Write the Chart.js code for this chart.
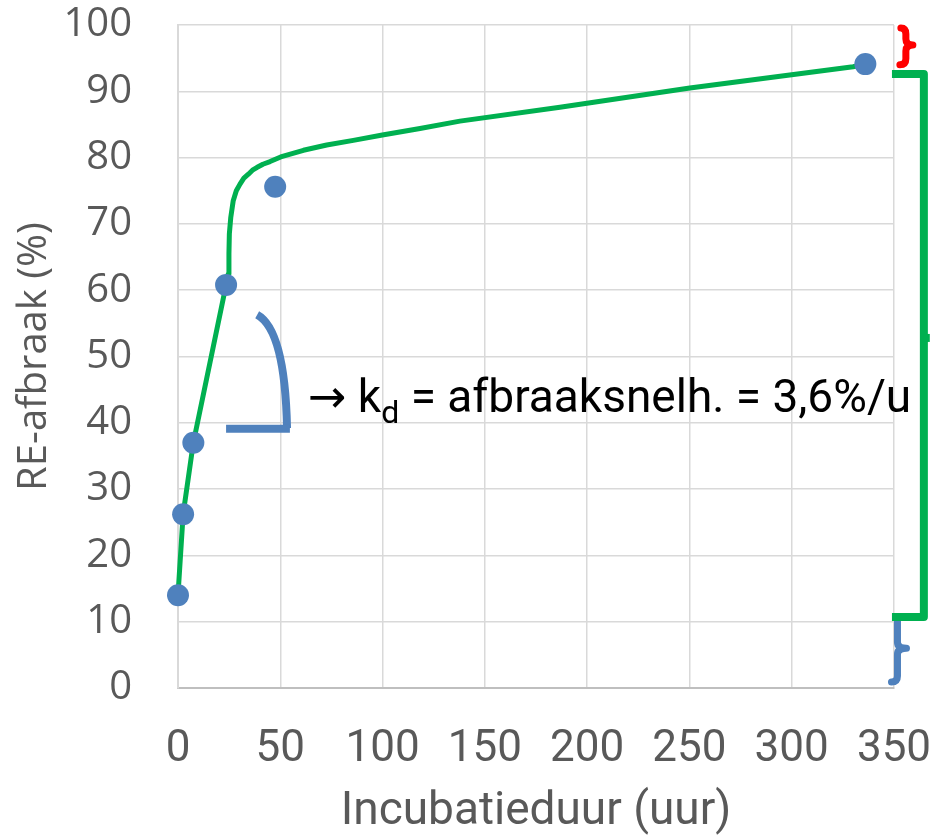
<!DOCTYPE html>
<html>
<head>
<meta charset="utf-8">
<script src="https://cdn.jsdelivr.net/npm/chart.js@4"></script>
<style>
  html, body { margin: 0; padding: 0; background: #ffffff; }
  canvas { display: block; }
</style>
</head>
<body>
<canvas id="c" width="932" height="835"></canvas>
<script>
// ---- data ----
const xHours   = [0, 2.5, 7.5, 23.5, 47.5, 336];
const reValues = [14, 26.2, 37, 60.8, 75.6, 94.1];
// fitted curve (green)
const fitHours  = [0, 2.5, 7.5, 23.5, 24.6, 24.9, 25.1, 25.8, 27.0, 28.5, 30.3, 32.2, 34.4, 36.4, 38.5, 41.5, 45.0, 50.2, 61.3, 72.7, 85.7, 99.9, 118.3, 137.8, 186.7, 250.2, 330, 336];
const fitValues = [14, 26.2, 37, 60.8, 62.5, 65.5, 68.5, 71.0, 73.5, 75.0, 76.0, 76.9, 77.5, 78.1, 78.5, 79.0, 79.4, 80.1, 81.1, 81.9, 82.6, 83.4, 84.4, 85.5, 87.6, 90.5, 93.7, 94.1];
const xTickValues = [0, 50, 100, 150, 200, 250, 300, 350];
const yTickValues = [0, 10, 20, 30, 40, 50, 60, 70, 80, 90, 100];
const xTitle = 'Incubatieduur (uur)';
const yTitle = 'RE-afbraak (%)';
const noteMain = '→ k';
const noteSub = 'd';
const noteRest = ' = afbraaksnelh. = 3,6%/u';

// ---- annotation geometry in data units ----
const angleArc = { start: [38.7, 56.3], ctrl: [52.3, 54.0], end: [53.3, 39.2] };
const angleBase = { from: [23.5, 39.1], to: [54.7, 39.1] };
const noteAnchor = [63.5, 41.6];
const redBrace = { x: 355.8, top: 100, mid: 97, bot: 93.7 };
const blueBrace = { x: 351.7, top: 10.3, mid: 6.0, bot: 0.9 };
const greenBracket = { xIn: 349, xOut: 364.6, top: 92.6, bot: 10.7, mid: 52.8, tick: 367.5 };

const BLUE = '#4F81BD', GREEN = '#00B050', RED = '#FF0000';

function brace(ctx, xp, yt, ym, yb, hookTop, hookBot, bump) {
  ctx.beginPath();
  if (hookTop) { ctx.moveTo(xp - 5, yt); ctx.quadraticCurveTo(xp, yt, xp, yt + 6); }
  else ctx.moveTo(xp, yt);
  ctx.lineTo(xp, ym - 6);
  ctx.quadraticCurveTo(xp, ym, xp + bump, ym);
  ctx.quadraticCurveTo(xp, ym, xp, ym + 6);
  ctx.lineTo(xp, yb - 6);
  if (hookBot) ctx.quadraticCurveTo(xp, yb, xp - 6, yb);
  else ctx.lineTo(xp, yb);
  ctx.stroke();
}

const annot = {
  id: 'annot',
  afterDatasetsDraw(chart) {
    const { ctx, scales: { x, y } } = chart;
    const P = (p) => [x.getPixelForValue(p[0]), y.getPixelForValue(p[1])];
    ctx.save();
    // angle mark
    ctx.strokeStyle = BLUE; ctx.lineWidth = 8; ctx.lineCap = 'butt';
    let s = P(angleArc.start), c = P(angleArc.ctrl), e = P(angleArc.end);
    ctx.beginPath(); ctx.moveTo(s[0], s[1]); ctx.quadraticCurveTo(c[0], c[1], e[0], e[1]); ctx.stroke();
    let a = P(angleBase.from), b = P(angleBase.to);
    ctx.beginPath(); ctx.moveTo(a[0], a[1]); ctx.lineTo(b[0], b[1]); ctx.stroke();

    // text
    const t = P(noteAnchor);
    ctx.fillStyle = '#000000';
    ctx.textBaseline = 'alphabetic'; ctx.textAlign = 'left';
    ctx.font = '46px Roboto, "DejaVu Sans", sans-serif';
    let px = t[0];
    ctx.fillText(noteMain, px, t[1]);
    px += ctx.measureText(noteMain).width;
    ctx.font = '32px Roboto, "DejaVu Sans", sans-serif';
    ctx.fillText(noteSub, px, t[1] + 11);
    px += ctx.measureText(noteSub).width;
    ctx.font = '46px Roboto, "DejaVu Sans", sans-serif';
    ctx.fillText(noteRest, px, t[1]);

    // right-side braces
    ctx.lineWidth = 7; ctx.lineCap = 'round'; ctx.lineJoin = 'round';
    ctx.strokeStyle = RED;
    brace(ctx, x.getPixelForValue(redBrace.x), y.getPixelForValue(redBrace.top) + 3,
          y.getPixelForValue(redBrace.mid), y.getPixelForValue(redBrace.bot) - 2, true, true, 7);
    ctx.strokeStyle = BLUE;
    brace(ctx, x.getPixelForValue(blueBrace.x), y.getPixelForValue(blueBrace.top),
          y.getPixelForValue(blueBrace.mid), y.getPixelForValue(blueBrace.bot), false, true, 9);

    // green bracket
    ctx.strokeStyle = GREEN; ctx.lineWidth = 8; ctx.lineCap = 'butt'; ctx.lineJoin = 'round';
    const xi = x.getPixelForValue(greenBracket.xIn), xo = x.getPixelForValue(greenBracket.xOut);
    const yt = y.getPixelForValue(greenBracket.top), yb = y.getPixelForValue(greenBracket.bot);
    ctx.beginPath(); ctx.moveTo(xi, yt); ctx.lineTo(xo, yt); ctx.lineTo(xo, yb); ctx.lineTo(xi, yb); ctx.stroke();
    const ym = y.getPixelForValue(greenBracket.mid);
    ctx.beginPath(); ctx.moveTo(xo, ym); ctx.lineTo(x.getPixelForValue(greenBracket.tick), ym); ctx.stroke();
    ctx.restore();
  }
};

const points = xHours.map((v, i) => ({ x: v, y: reValues[i] }));
const fit = fitHours.map((v, i) => ({ x: v, y: fitValues[i] }));

new Chart(document.getElementById('c'), {
  type: 'scatter',
  data: {
    datasets: [
      { label: 'meting', data: points, showLine: false, pointRadius: 11, pointHoverRadius: 11,
        backgroundColor: BLUE, borderColor: BLUE, borderWidth: 0, clip: false },
      { label: 'fit', data: fit, showLine: true, pointRadius: 0, borderColor: GREEN, borderWidth: 5,
        tension: 0, borderJoinStyle: 'round', borderCapStyle: 'round', fill: false, clip: false }
    ]
  },
  options: {
    responsive: false,
    devicePixelRatio: 1,
    animation: false,
    layout: { padding: { top: 25, right: 38, left: 0, bottom: 0 } },
    plugins: { legend: { display: false }, tooltip: { enabled: false } },
    scales: {
      x: {
        type: 'linear', min: 0, max: 350,
        afterBuildTicks: (s) => { s.ticks = xTickValues.map(v => ({ value: v })); },
        afterFit: (s) => { s.height = 147; s.paddingLeft = 0; s.paddingRight = 0; },
        grid: { color: '#D9D9D9', lineWidth: 1.5, drawTicks: false },
        border: { color: '#BFBFBF', width: 2 },
        ticks: { color: '#595959', padding: 40, font: { family: 'Roboto', size: 44, lineHeight: 1 } },
        title: { display: true, text: xTitle, color: '#595959', padding: 0,
                 font: { family: 'Roboto', size: 46, lineHeight: 1 } }
      },
      y: {
        type: 'linear', min: 0, max: 100,
        afterBuildTicks: (s) => { s.ticks = yTickValues.map(v => ({ value: v })); },
        afterFit: (s) => { s.width = 178; s.paddingTop = 0; s.paddingBottom = 0; },
        grid: { color: '#D9D9D9', lineWidth: 1.5, drawTicks: false },
        border: { color: '#D9D9D9', width: 2 },
        ticks: { color: '#595959', padding: 46, font: { family: '"Open Sans"', size: 40, lineHeight: 1 } },
        title: { display: true, text: yTitle, color: '#595959', padding: { top: 15, bottom: 0 },
                 font: { family: '"Open Sans"', size: 40, lineHeight: 1 } }
      }
    }
  },
  plugins: [annot]
});
</script>
</body>
</html>
